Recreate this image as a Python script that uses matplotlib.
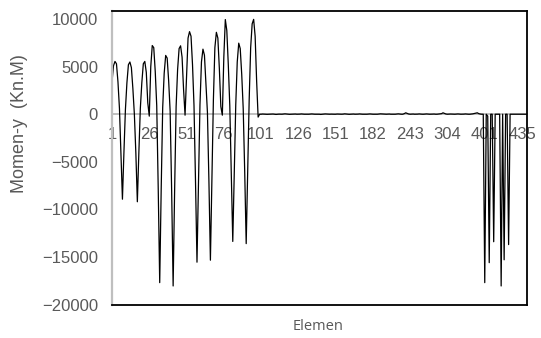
import matplotlib
matplotlib.use("Agg")
import matplotlib.pyplot as plt

plt.rcParams["font.family"] = ["Liberation Sans", "DejaVu Sans"]

# element numbers on the category axis (not contiguous after 151)
elemen = (list(range(1, 152)) + list(range(158, 183)) + list(range(195, 244, 2))
          + list(range(256, 305, 2)) + list(range(353, 402, 2))
          + list(range(411, 436)) + list(range(436, 443)))

# Momen-y (Kn.M), one value per element
momen = [
    3400, 5100, 5550, 5300, 3400, 600, -4000, -8930, -4000, 500, 3300, 5200, 5490,
    4900, 2700, 0, -4100, -9200, -4100, 600, 3300, 5300, 5550, 4400, 1200,
    -200, 5000, 7220, 7000, 4500, 900, -7800, -17700, -7800, 700, 4300, 6180, 5900,
    3500, 300, -8000, -18050, -8000, 800, 4700, 6900, 7190, 6000, 2600, -100,
    4000, 8000, 8680, 8200, 5200, 900, -7000, -15550, -7000, 1000, 5500, 6840, 6200,
    3200, 200, -7000, -15340, -7000, 1500, 7000, 8610, 8000, 4800, 800, -100,
    6000, 9950, 8800, 5200, 900, -6000, -13370, -6000, 1000, 5500, 7470, 6900, 4200,
    600, -6000, -13600, -6000, 1500, 7000, 9500, 9970, 8200, 3500, -300, 0,
    0, 20, 10, 0, -10, 0, 10, 30, 20, 0, -20, 0, 10, 0, 0, 20, 40, 20, 0, -10, 0, 0, 10, 20, 0,
    0, 10, 30, 10, 0, 0, -10, 0, 20, 30, 10, 0, 0, 10, 0, -20, 0, 10, 30, 20, 0, 0, 10, 0, 0,
    0, 20, 10, 0, 0, 10, 40, 20, 0, -10, 0, 10, 20, 0, 0, 10, 30, 10, 0, 0, -10, 0, 20, 30, 10,
    0, 0, 10, 0, 20, 40, 30, 10, 0, 0, 10, 20, 0, 0, -10, 0, 20, 40, 20, 0, 0, 60, 150, 80, 20,
    0, 10, 20, 0, 0, 10, 30, 10, 0, 0, 20, 30, 10, 0, 0, 10, 20, 0, 0, 20, 40, 60, 150, 80, 20,
    0, 10, 20, 10, 0, 0, 20, 30, 10, 0, 0, 10, 30, 10, 0, 0, 20, 40, 80, 120, 150, 60, 20, 0, 0,
    -17700, 0, -200, -15600, 0, 0, -13400, 0, 0, 0, 0, -18050, 0, -15300, 0, 0, -13700, 0,
    0, 0, 0, 0, 0, 0, 0, 0, 0, 0, 0,
]

idx = list(range(len(momen)))
tick_idx = idx[::25]
tick_lab = [str(elemen[i]) for i in tick_idx]

fig = plt.figure(figsize=(5.41, 3.38), dpi=100)
ax = fig.add_axes([112 / 541, 1 - 305 / 338, 414.5 / 541, 294 / 338])

ax.plot(idx, momen, color="black", lw=0.9)

ax.set_xlim(0, len(momen) - 1)
ax.set_ylim(-20050, 10850)
ax.set_yticks([10000, 5000, 0, -5000, -10000, -15000, -20000])
ax.set_xticks(tick_idx, tick_lab)

tick_col = "#595959"
ax.tick_params(axis="both", length=0, labelsize=12, labelcolor=tick_col)
ax.tick_params(axis="y", pad=10)
ax.tick_params(axis="x", pad=9)

# x axis sits on zero, grey like the value axis
ax.spines["bottom"].set_position(("data", 0))
ax.spines["bottom"].set_color("#bfbfbf")
ax.spines["bottom"].set_linewidth(1.4)
ax.spines["bottom"].set_zorder(1)
ax.spines["left"].set_color("#bfbfbf")
ax.spines["left"].set_linewidth(1.6)
for s in ["top", "right"]:
    ax.spines[s].set_color("black")
    ax.spines[s].set_linewidth(1.3)
ax.plot([0, 1], [0, 0], transform=ax.transAxes, color="black", lw=1.3,
        clip_on=False, zorder=5)

fig.text(20 / 541, 1 - 124 / 338, "Momen-y  (Kn.M)", rotation=90, ha="center",
         va="center", fontsize=13, color=tick_col)
fig.text(318 / 541, 1 - 326 / 338, "Elemen", ha="center", va="center",
         fontsize=10.5, color=tick_col, family="Open Sans")

fig.savefig("out.png", dpi=100)
